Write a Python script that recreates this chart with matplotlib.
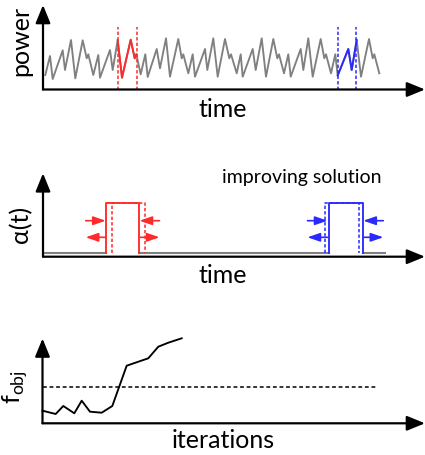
import matplotlib
matplotlib.use("Agg")
import matplotlib.pyplot as plt

plt.rcParams['font.family'] = ['Lato', 'DejaVu Sans']
plt.rcParams['mathtext.fontset'] = 'custom'
plt.rcParams['mathtext.rm'] = 'Lato'

# power signal (time, power)
time = [2.3, 7, 9.7, 19.7, 22, 28, 32.3, 39.7, 43.7, 45.3, 50.3, 55.3, 57, 67, 69.7,
        74.7, 79, 87.7, 91.7, 93.3, 97.7, 102.3, 104.7, 113.7, 117, 123, 127, 135.3,
        138.7, 140.3, 145.3, 149.7, 152, 162, 164.3, 170.3, 174.7, 182, 186.3, 188,
        193.7, 197.7, 199.7, 209.7, 212.7, 218.7, 223, 230.3, 234.3, 236, 241, 245.3,
        247.7, 257.7, 260.3, 265.3, 269.7, 277.7, 281.3, 283, 288, 292.3, 294.7, 305.3,
        308.7, 313.7, 318, 326, 329.7, 331.3, 336.3]
power = [14.5, 33.5, 10.5, 39.2, 19.5, 49.5, 11.2, 49.2, 31.2, 35.2, 14.5, 34.5, 11.8,
         39.5, 19.5, 49.5, 11.8, 49.8, 31.2, 35.2, 15.2, 35.2, 12.5, 40.5, 21.2, 51.2,
         12.8, 50.5, 31.2, 35.2, 16.2, 35.2, 12.8, 40.5, 19.5, 51.2, 12.8, 50.5, 31.2,
         35.2, 16.2, 35.2, 12.8, 40.5, 19.5, 51.2, 12.8, 50.5, 31.2, 35.2, 16.2, 35.2,
         12.8, 40.5, 19.5, 51.2, 12.8, 50.5, 31.2, 35.2, 16.2, 35.2, 14.0, 40.5, 19.5,
         49.5, 12.8, 50.5, 31.2, 35.2, 16.2]
red_window = (74.5, 93.7)
blue_window = (294.7, 313.2)
window_top = 62.8

# alpha(t) pulses
alpha_low = 3.4
alpha_high = 53.4
alpha_end = 342
red_solid = (62.7, 96.0)
red_dashed = (69.3, 102.0)
blue_solid = (286.3, 319.7)
blue_dashed = (282.0, 316.3)
red_anchor = (62.7, 96.5)
blue_anchor = (284.5, 320.3)
arrow_len = 20
arrow_levels = (36.0, 19.4)

# objective function vs iterations
iterations = [0, 13.2, 20.8, 31.8, 39.2, 47.5, 59.2, 69.8, 84.2, 105.8, 115.8, 125.8, 139.2]
f_obj = [12.6, 9.3, 17.3, 10.0, 22.6, 11.6, 10.6, 17.3, 57.6, 65.0, 76.6, 80.6, 85.0]
f_threshold = 36.6
threshold_end = 333.5

W, H = 425, 455
RED = '#ff2a2a'
BLUE = '#2a2aff'
GREY = '#808080'

fig = plt.figure(figsize=(W / 100, H / 100), dpi=100)


def panel(x0, y_axis, y_top, x_tip=425):
    ax = fig.add_axes([x0 / W, 1 - y_axis / H, (x_tip - x0) / W, (y_axis - y_top) / H])
    ax.set_xlim(0, x_tip - x0)
    ax.set_ylim(0, y_axis - y_top)
    ax.axis('off')
    style = '-|>,head_length=1.1,head_width=0.45'
    for tip in [(1, 0), (0, 1)]:
        ax.annotate('', xy=tip, xytext=(0, 0), xycoords='axes fraction',
                    arrowprops=dict(arrowstyle=style, lw=1.6, color='black',
                                    shrinkA=0, shrinkB=0, mutation_scale=10),
                    annotation_clip=False)
    return ax


def label(x, y, s, **kw):
    fig.text(x / W, 1 - y / H, s, **kw)


# top: power vs time
ax1 = panel(43, 89.5, 5)
ax1.plot(time, power, color=GREY, lw=1.35, clip_on=False)
for (a, b), c in [(red_window, RED), (blue_window, BLUE)]:
    seg = [(t, p) for t, p in zip(time, power) if a - 0.5 <= t <= b + 0.5]
    ax1.plot([s[0] for s in seg], [s[1] for s in seg], color=c, lw=1.35)
    for x in (a, b):
        ax1.plot([x, x], [0, window_top], color=c, lw=1.1, ls=(0, (2.2, 1.4)))
label(20.5, 41, 'power', fontsize=18, rotation=90, ha='center', va='center')
label(222.5, 117, 'time', fontsize=18, ha='center', va='baseline')

# middle: alpha(t)
ax2 = panel(43, 256.7, 173.3)
base_x = [[0, red_solid[0]], [red_solid[1], blue_solid[0]], [blue_solid[1], alpha_end]]
for xs in base_x:
    ax2.plot(xs, [alpha_low, alpha_low], color=GREY, lw=1.5)
for solid, dashed, anchor, c in [(red_solid, red_dashed, red_anchor, RED),
                                 (blue_solid, blue_dashed, blue_anchor, BLUE)]:
    a, b = solid
    ax2.plot([a, a, b, b], [alpha_low, alpha_high, alpha_high, alpha_low], color=c, lw=1.35)
    a, b = dashed
    ax2.plot([a, a, b, b], [alpha_low, alpha_high, alpha_high, alpha_low], color=c,
             lw=1.1, ls=(0, (2.2, 1.4)))
    left, right = anchor
    st = dict(arrowstyle='-|>,head_length=0.75,head_width=0.26', lw=1.2, color=c,
              shrinkA=0, shrinkB=0, mutation_scale=10)
    up, low = arrow_levels
    ax2.annotate('', xy=(left, up), xytext=(left - arrow_len, up), arrowprops=st)
    ax2.annotate('', xy=(left - arrow_len, low), xytext=(left, low), arrowprops=st)
    ax2.annotate('', xy=(right, up), xytext=(right + arrow_len, up), arrowprops=st)
    ax2.annotate('', xy=(right + arrow_len, low), xytext=(right, low), arrowprops=st)
label(302, 183.5, 'improving solution', fontsize=14, ha='center', va='baseline')
label(21, 224, 'α(t)', fontsize=18, rotation=90, ha='center', va='center')
label(222.5, 283.3, 'time', fontsize=18, ha='center', va='baseline')

# bottom: objective
ax3 = panel(42.5, 423.3, 338.5)
ax3.plot(iterations, f_obj, color='black', lw=1.35, clip_on=False)
ax3.plot([0, threshold_end], [f_threshold, f_threshold], color='black', lw=1.1,
         ls=(0, (2.5, 1.8)))
label(15, 387, r'f$_{\mathrm{obj}}$', fontsize=18, rotation=90, ha='center', va='center')
label(223.3, 448.3, 'iterations', fontsize=18, ha='center', va='baseline')

fig.savefig('out.png', dpi=100)
